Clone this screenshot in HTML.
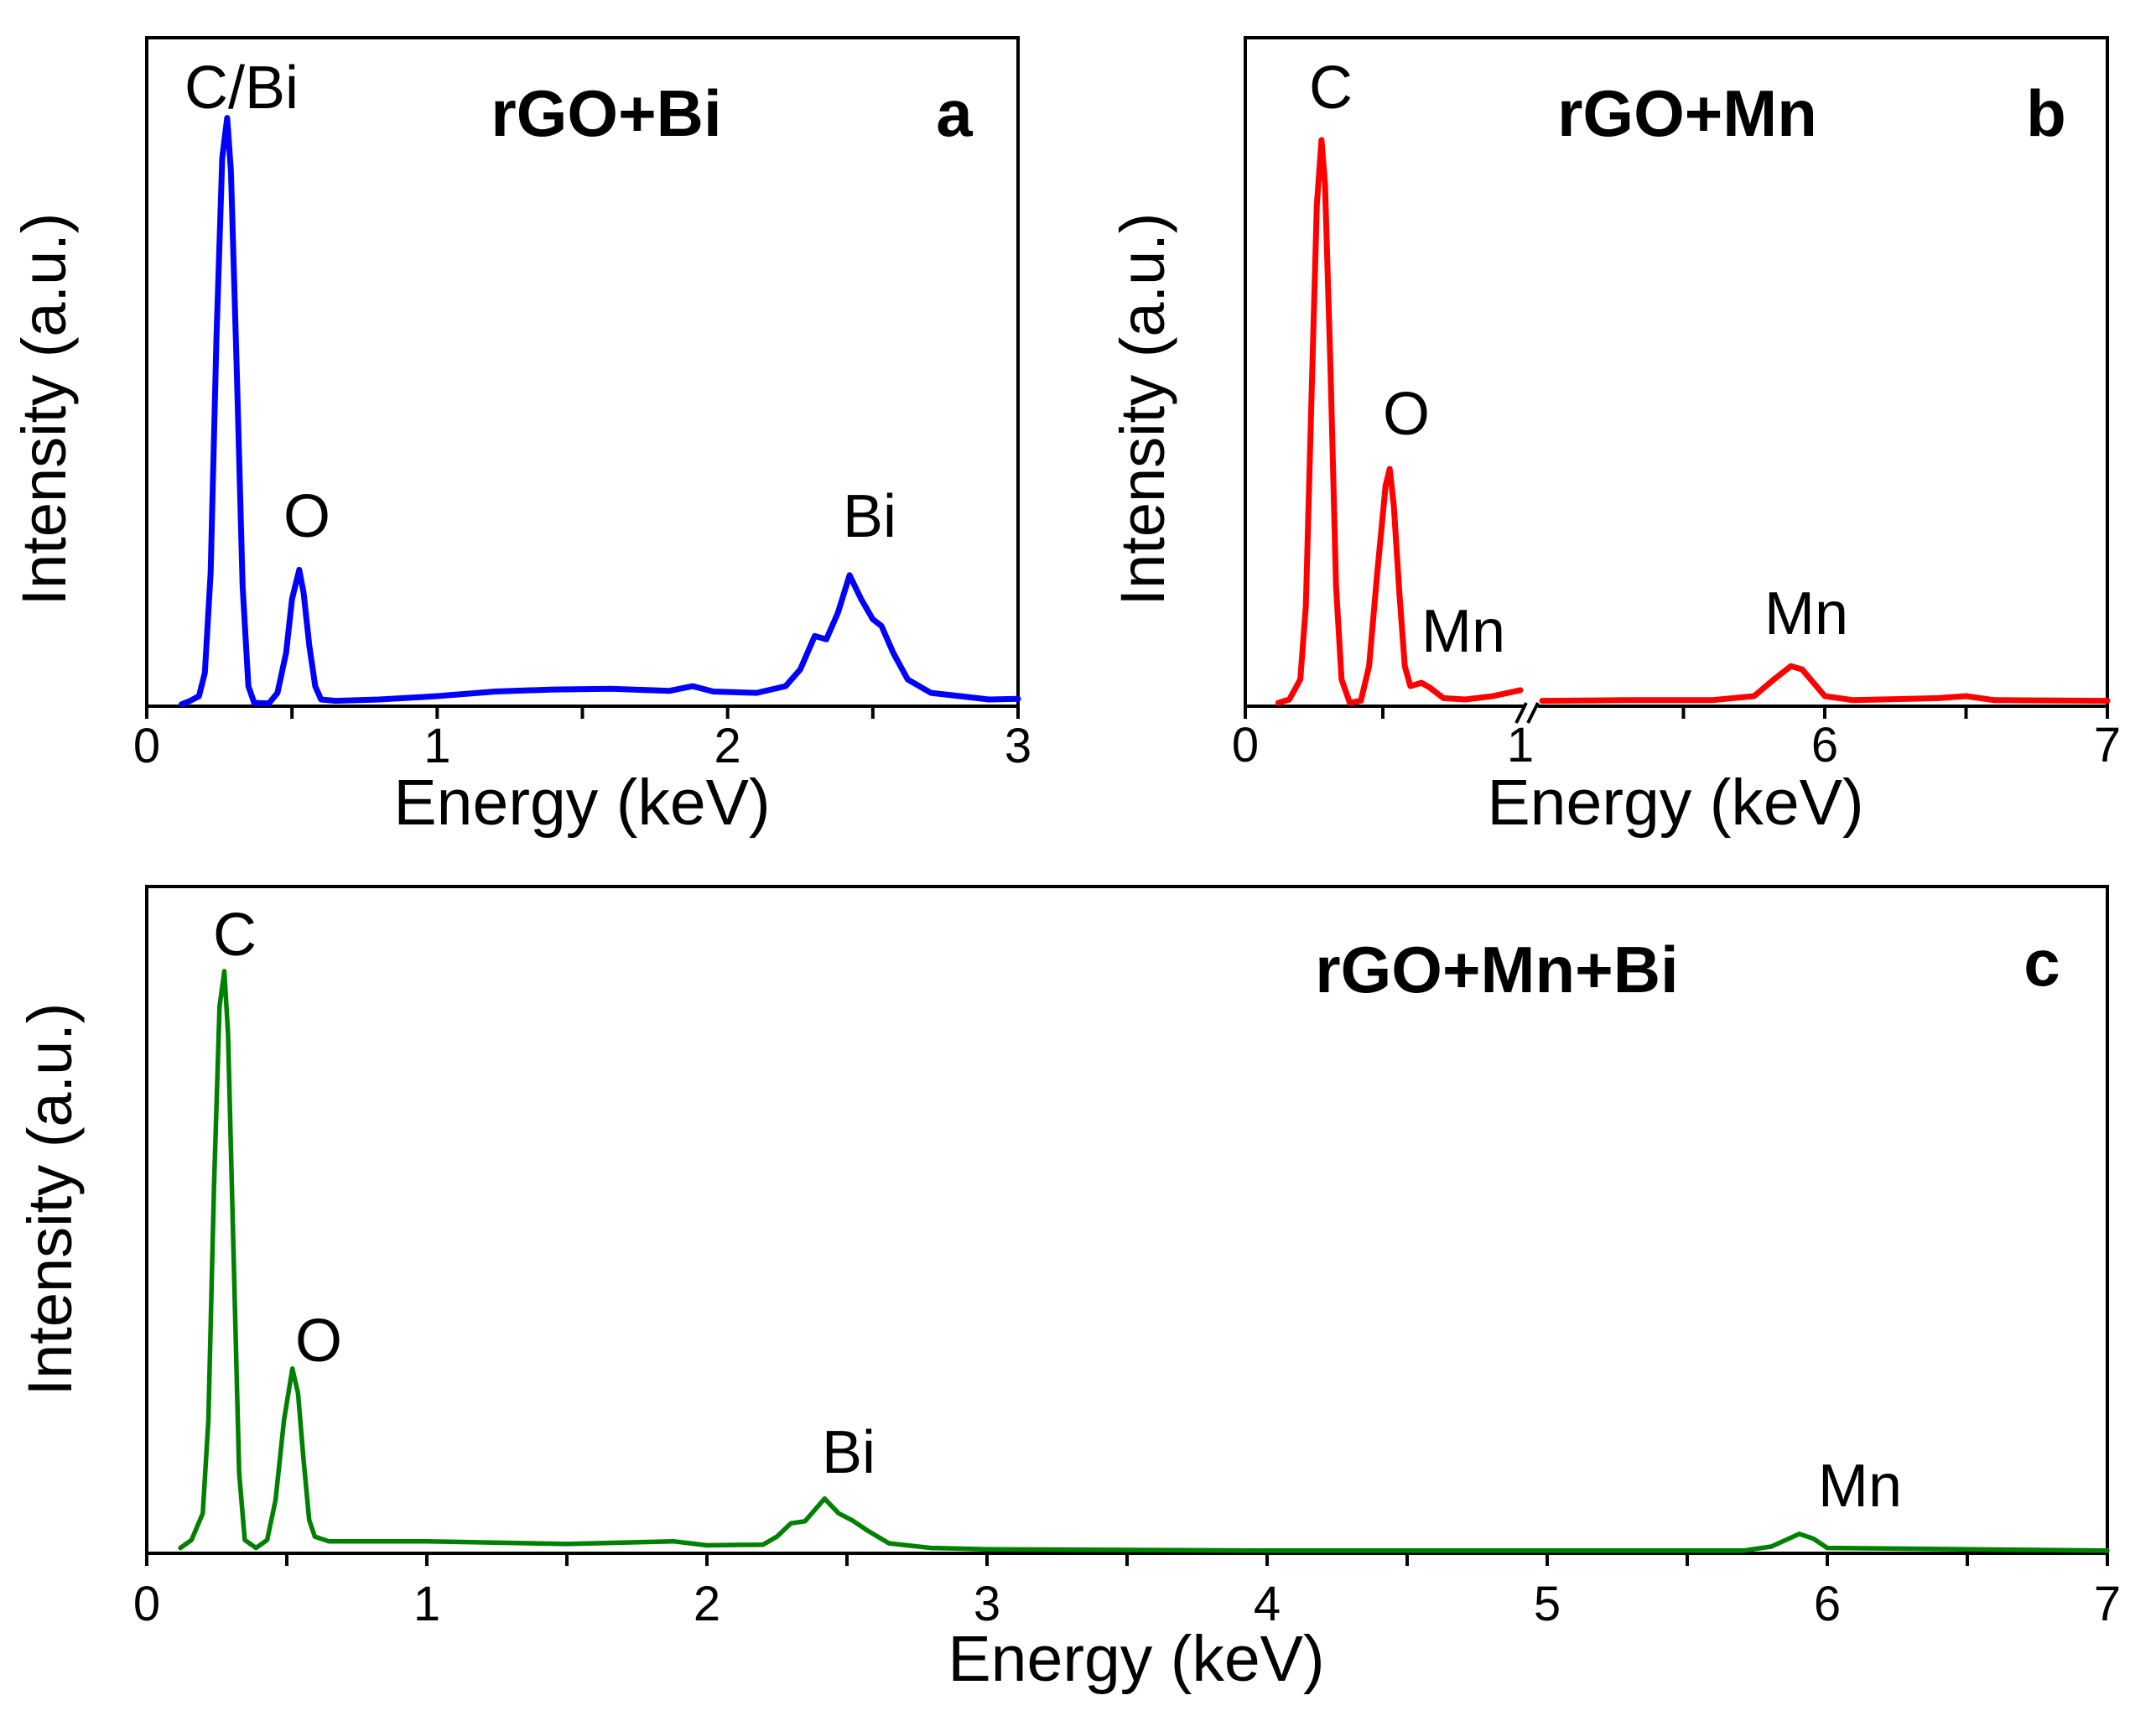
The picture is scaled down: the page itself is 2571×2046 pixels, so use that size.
<!DOCTYPE html>
<html><head><meta charset="utf-8"><style>
html,body{margin:0;padding:0;background:#fff;}
svg{display:block;font-family:"Liberation Sans",Arial,sans-serif;}
</style></head><body>
<svg id="fig" width="2571" height="2046" viewBox="0 0 2571 2046" xmlns="http://www.w3.org/2000/svg"></svg>
<script>
// Panel a: rGO+Bi
const energyA = [0.12,0.15,0.18,0.2,0.22,0.24,0.26,0.277,0.29,0.31,0.33,0.35,0.37,0.42,0.45,0.48,0.5,0.525,0.54,0.56,0.58,0.6,0.65,0.8,1.0,1.2,1.4,1.6,1.8,1.88,1.95,2.1,2.2,2.25,2.3,2.34,2.38,2.42,2.46,2.5,2.53,2.57,2.62,2.7,2.8,2.9,3.0];
const intensityA = [0.3,0.8,1.5,5,20,55,82,88,80,50,18,3,0.5,0.4,2,8,16,20.4,17,9,3,1,0.8,1.0,1.5,2.2,2.5,2.6,2.3,3.0,2.2,2.0,3,5.5,10.5,10,14,19.6,16,13,12,8,4,2,1.5,1.0,1.1];
// Panel b: rGO+Mn (two segments, broken axis)
const energyB1 = [0.12,0.16,0.2,0.22,0.24,0.26,0.277,0.29,0.31,0.33,0.35,0.38,0.42,0.45,0.48,0.51,0.525,0.54,0.56,0.58,0.6,0.64,0.67,0.72,0.8,0.9,1.0];
const intensityB1 = [0.5,1.0,4,15,45,75,84.7,78,50,18,4,0.5,0.8,6,20,33,35.5,30,17,6,3,3.5,2.8,1.2,1.0,1.5,2.4];
const energyB2 = [5.0,5.3,5.6,5.75,5.82,5.88,5.92,5.95,6.0,6.1,6.4,6.5,6.6,7.0];
const intensityB2 = [0.8,0.9,0.9,1.5,4,6,5.5,4,1.5,0.9,1.2,1.5,0.9,0.8];
// Panel c: rGO+Mn+Bi
const energyC = [0.12,0.16,0.2,0.22,0.24,0.26,0.277,0.29,0.31,0.33,0.35,0.39,0.43,0.46,0.49,0.52,0.54,0.56,0.58,0.6,0.65,1.0,1.5,1.88,2.0,2.2,2.25,2.3,2.35,2.42,2.47,2.52,2.57,2.65,2.8,3.0,4.0,5.0,5.7,5.8,5.9,5.95,6.0,6.5,7.0];
const intensityC = [0.8,2,6,20,55,82,87.3,78,45,12,2,0.8,2,8,20,27.7,24,14,5,2.5,1.8,1.8,1.4,1.8,1.2,1.3,2.5,4.5,4.8,8.2,6,4.9,3.5,1.5,0.8,0.6,0.4,0.4,0.4,1.0,2.9,2.2,0.8,0.6,0.4];
const ticksA = ["0","1","2","3"];
const ticksB = ["0","1","6","7"];
const ticksC = ["0","1","2","3","4","5","6","7"];

const NS = "http://www.w3.org/2000/svg";
const svg = document.getElementById('fig');
function mk(tag, attrs, parent){
  const e = document.createElementNS(NS, tag);
  for (const k in attrs) e.setAttribute(k, attrs[k]);
  (parent||svg).appendChild(e);
  return e;
}
function txt(s, x, y, size, bold, anchor, name, parent, rot){
  const t = mk('text', {x:x, y:y, 'font-size':size, 'text-anchor':anchor||'middle', fill:'#000'}, parent);
  if (bold) t.setAttribute('font-weight','bold');
  if (rot) t.setAttribute('transform', 'rotate(-90 '+x+' '+y+')');
  t.textContent = s;
  
  
  return t;
}
function linScale(d0,d1,r0,r1){ return v => r0 + (v-d0)/(d1-d0)*(r1-r0); }
function polyline(xs, ys, xf, yf, color, w, name, g){
  const pts = xs.map((x,i)=> xf(x).toFixed(1)+','+yf(ys[i]).toFixed(1)).join(' ');
  const p = mk('polyline', {points:pts, fill:'none', stroke:color, 'stroke-width':w, 'stroke-linejoin':'round', 'stroke-linecap':'round'}, g);
  
  
}
function frame(L,T,R,B,g){
  const r = mk('rect', {x:L, y:T, width:R-L, height:B-T, fill:'none', stroke:'#000', 'stroke-width':4}, g);
  
  
}
function tick(x, B, len, g){
  const l = mk('line', {x1:x, y1:B, x2:x, y2:B+len, stroke:'#000', 'stroke-width':4}, g);
  
  
}

// ---- Panel a
(function(){
  const g = mk('g', {});
  
  
  const L=175,T=45,R=1214,B=842;
  const xf = linScale(0,3,L,R), yf = linScale(0,100,B,T);
  frame(L,T,R,B,g);
  for (let v=0; v<=3.001; v+=0.5) tick(xf(v), B, 15, g);
  ticksA.forEach(s => txt(s, xf(+s), 909, 58, false, 'middle', 'x-tick-label', g));
  polyline(energyA, intensityA, xf, yf, '#0000ff', 7, 'spectrum-rgo-bi', g);
  txt('Energy (keV)', 694, 983, 77, false, 'middle', 'x-axis-title', g);
  txt('Intensity (a.u.)', 78, 488, 74, false, 'middle', 'y-axis-title', g, true);
  txt('C/Bi', 288, 129, 72, false, 'middle', 'peak-label-c-bi', g);
  txt('O', 366, 640, 72, false, 'middle', 'peak-label-o', g);
  txt('Bi', 1037, 640, 72, false, 'middle', 'peak-label-bi', g);
  txt('rGO+Bi', 723, 162, 78, true, 'middle', 'panel-title', g);
  txt('a', 1138, 162, 78, true, 'middle', 'panel-letter', g);
})();

// ---- Panel b (broken axis)
(function(){
  const g = mk('g', {});
  
  
  const L=1485,T=45,R=2513,B=842;
  const x1 = linScale(0,1,L,1813), x2 = linScale(5,7,1839,R), yf = linScale(0,100,B,T);
  [[L,T,R,T],[L,T,L,B],[R,T,R,B],[L,B,1815,B],[1836,B,R,B]].forEach(s=>{
    const l = mk('line', {x1:s[0],y1:s[1],x2:s[2],y2:s[3],stroke:'#000','stroke-width':4,'stroke-linecap':'square'}, g);
    
    
  });
  [[1808,862,1820,838],[1822,862,1834,838]].forEach(s=>{
    const l = mk('line', {x1:s[0],y1:s[1],x2:s[2],y2:s[3],stroke:'#000','stroke-width':4}, g);
    
    
  });
  [0,0.5].forEach(v=>tick(x1(v),B,15,g));
  [5.5,6,6.5,7].forEach(v=>tick(x2(v),B,15,g));
  txt(ticksB[0], x1(0), 908, 58, false, 'middle', 'x-tick-label', g);
  txt(ticksB[1], x1(1), 908, 58, false, 'middle', 'x-tick-label', g);
  txt(ticksB[2], x2(6), 908, 58, false, 'middle', 'x-tick-label', g);
  txt(ticksB[3], x2(7), 908, 58, false, 'middle', 'x-tick-label', g);
  polyline(energyB1, intensityB1, x1, yf, '#ff0000', 7, 'spectrum-rgo-mn-low', g);
  polyline(energyB2, intensityB2, x2, yf, '#ff0000', 7, 'spectrum-rgo-mn-high', g);
  txt('Energy (keV)', 1998, 983, 77, false, 'middle', 'x-axis-title', g);
  txt('Intensity (a.u.)', 1388, 488, 74, false, 'middle', 'y-axis-title', g, true);
  txt('C', 1587, 129, 72, false, 'middle', 'peak-label-c', g);
  txt('O', 1677, 518, 72, false, 'middle', 'peak-label-o', g);
  txt('Mn', 1745, 777, 72, false, 'middle', 'peak-label-mn-l', g);
  txt('Mn', 2154, 756, 72, false, 'middle', 'peak-label-mn-k', g);
  txt('rGO+Mn', 2012, 162, 78, true, 'middle', 'panel-title', g);
  txt('b', 2440, 162, 78, true, 'middle', 'panel-letter', g);
})();

// ---- Panel c
(function(){
  const g = mk('g', {});
  
  
  const L=175,T=1057,R=2513,B=1852;
  const xf = linScale(0,7,L,R), yf = linScale(0,100,B,T);
  frame(L,T,R,B,g);
  for (let v=0; v<=7.001; v+=0.5) tick(xf(v), B, 15, g);
  ticksC.forEach(s => txt(s, xf(+s), 1932, 58, false, 'middle', 'x-tick-label', g));
  polyline(energyC, intensityC, xf, yf, '#008000', 5.5, 'spectrum-rgo-mn-bi', g);
  txt('Energy (keV)', 1355, 2004, 77, false, 'middle', 'x-axis-title', g);
  txt('Intensity (a.u.)', 85, 1430, 74, false, 'middle', 'y-axis-title', g, true);
  txt('C', 280, 1139, 72, false, 'middle', 'peak-label-c', g);
  txt('O', 380, 1623, 72, false, 'middle', 'peak-label-o', g);
  txt('Bi', 1012, 1756, 72, false, 'middle', 'peak-label-bi', g);
  txt('Mn', 2218, 1796, 72, false, 'middle', 'peak-label-mn', g);
  txt('rGO+Mn+Bi', 1785, 1183, 78, true, 'middle', 'panel-title', g);
  txt('c', 2435, 1175, 78, true, 'middle', 'panel-letter', g);
})();
</script>
</body></html>
